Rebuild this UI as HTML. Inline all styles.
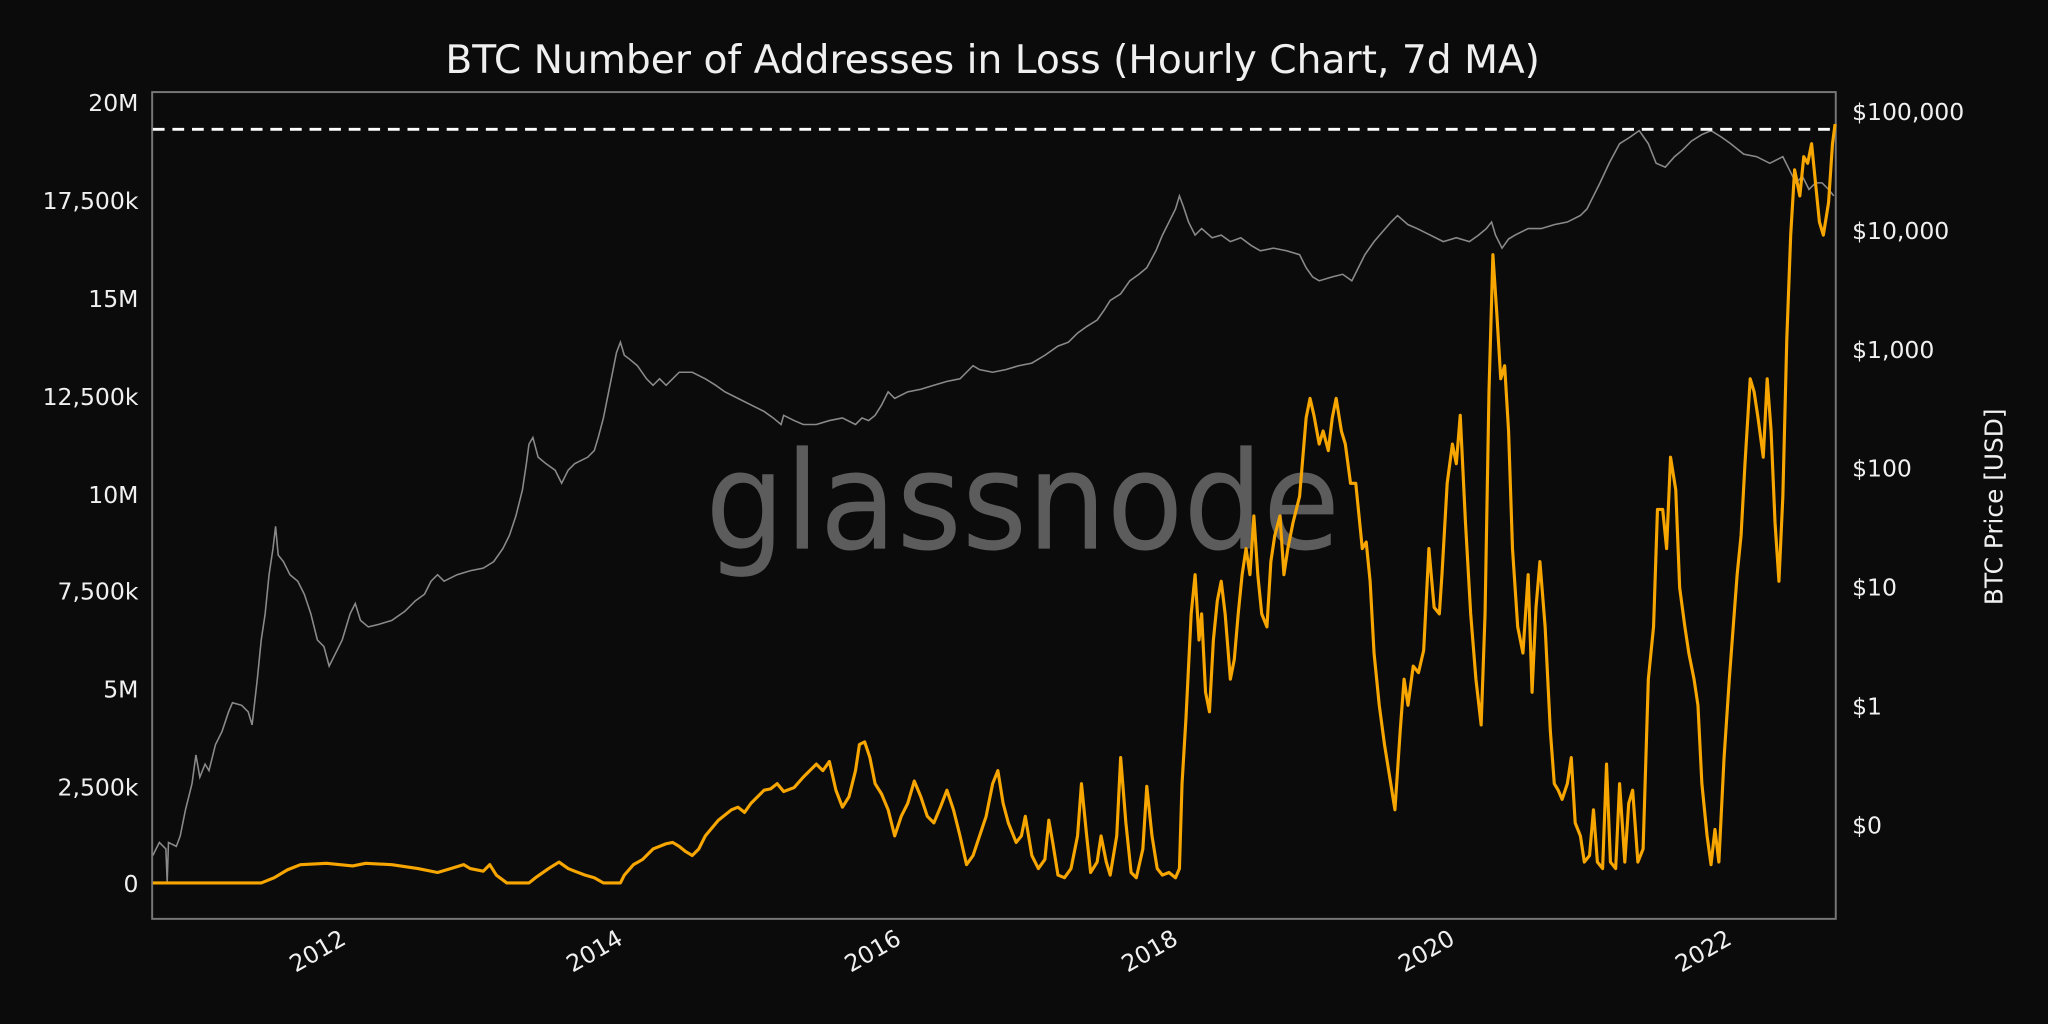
<!DOCTYPE html>
<html><head><meta charset="utf-8"><style>
html,body{margin:0;padding:0;background:#0b0b0b;}
svg{display:block;}
text{font-family:"DejaVu Sans","Liberation Sans",sans-serif;fill:#f0f0f0;}
</style></head><body>
<svg width="2048" height="1024" viewBox="0 0 1568 784" xmlns="http://www.w3.org/2000/svg">
<rect width="1568" height="784" fill="#0b0b0b"/>
<text x="760" y="56" font-size="30" text-anchor="middle">BTC Number of Addresses in Loss (Hourly Chart, 7d MA)</text>
<text x="540" y="420" font-size="104" textLength="486" lengthAdjust="spacingAndGlyphs" style="fill:#5c5c5c">glassnode</text>
<rect x="116.5" y="70.5" width="1289" height="633" fill="none" stroke="#777" stroke-width="1.5"/>
<g font-size="18" text-anchor="end">
<text x="106" y="85">20M</text>
<text x="106" y="160">17,500k</text>
<text x="106" y="235">15M</text>
<text x="106" y="310">12,500k</text>
<text x="106" y="385">10M</text>
<text x="106" y="459">7,500k</text>
<text x="106" y="534">5M</text>
<text x="106" y="609">2,500k</text>
<text x="106" y="683">0</text>
</g>
<g font-size="18">
<text x="1418" y="92">$100,000</text>
<text x="1418" y="183">$10,000</text>
<text x="1418" y="274">$1,000</text>
<text x="1418" y="365">$100</text>
<text x="1418" y="456">$10</text>
<text x="1418" y="547">$1</text>
<text x="1418" y="638">$0</text>
</g>
<text transform="translate(1533,388) rotate(-90)" font-size="19" text-anchor="middle">BTC Price [USD]</text>
<g font-size="18" text-anchor="end">
<text transform="translate(266,722) rotate(-30)">2012</text>
<text transform="translate(478,722) rotate(-30)">2014</text>
<text transform="translate(691,722) rotate(-30)">2016</text>
<text transform="translate(903,722) rotate(-30)">2018</text>
<text transform="translate(1115,722) rotate(-30)">2020</text>
<text transform="translate(1327,722) rotate(-30)">2022</text>
</g>
<polyline fill="none" stroke="#8a8a8a" stroke-width="1.2" points="117,655 122,645 127,650 128,675 129,645 135,648 138,640 142,620 147,600 150,578 153,595 157,585 160,590 165,570 170,560 175,545 178,538 185,540 190,545 193,555 197,520 200,490 203,470 206,440 209,420 211,403 213,425 217,430 222,440 228,445 233,455 238,470 243,490 248,495 252,510 257,500 262,490 268,470 272,462 276,475 282,480 290,478 300,475 310,468 318,460 325,455 330,445 335,440 340,445 350,440 360,437 370,435 378,430 385,420 390,410 395,395 400,375 403,355 405,340 408,335 412,350 418,355 425,360 430,370 435,360 440,355 450,350 455,345 458,335 462,320 466,300 469,285 472,270 475,262 478,272 482,275 488,280 495,290 500,295 505,290 510,295 520,285 530,285 540,290 548,295 555,300 565,305 575,310 585,315 592,320 598,325 600,318 608,322 615,325 625,325 635,322 645,320 655,325 660,320 665,322 670,318 675,310 680,300 685,305 695,300 705,298 715,295 725,292 735,290 740,285 745,280 750,283 760,285 770,283 780,280 790,278 800,272 810,265 818,262 825,255 832,250 840,245 845,238 850,230 858,225 865,215 872,210 878,205 885,192 890,180 895,170 900,160 903,150 906,158 910,170 915,180 920,175 928,182 935,180 942,185 950,182 958,188 965,192 975,190 985,192 995,195 1000,205 1005,212 1010,215 1020,212 1028,210 1035,215 1040,205 1045,195 1052,185 1058,178 1065,170 1070,165 1078,172 1085,175 1095,180 1105,185 1115,182 1125,185 1132,180 1138,175 1142,170 1145,180 1150,190 1155,183 1160,180 1170,175 1180,175 1190,172 1200,170 1210,165 1215,160 1220,150 1225,140 1232,125 1240,110 1248,105 1255,100 1262,110 1268,125 1275,128 1282,120 1288,115 1295,108 1303,103 1310,100 1318,105 1325,110 1335,118 1345,120 1355,125 1365,120 1370,130 1375,140 1380,135 1385,145 1390,140 1395,140 1400,145 1404,150"/>
<polyline fill="none" stroke="#f7a600" stroke-width="2.4" stroke-linejoin="round" points="117,676 200,676 210,672 220,666 230,662 250,661 270,663 280,661 300,662 320,665 335,668 345,665 355,662 360,665 370,667 375,662 380,670 388,676 405,676 410,672 420,665 428,660 435,665 440,667 448,670 455,672 462,676 475,676 478,670 485,662 492,658 500,650 510,646 515,645 520,648 525,652 530,655 535,650 540,640 550,628 560,620 565,618 570,622 575,615 580,610 585,605 590,604 595,600 600,606 608,603 615,595 620,590 625,585 630,590 635,583 640,605 645,618 650,610 655,590 658,570 662,568 666,580 670,600 675,608 680,620 685,640 690,625 695,615 700,598 705,610 710,625 715,630 720,618 725,605 730,620 735,640 740,662 745,655 750,640 755,625 760,600 764,590 768,615 772,630 778,645 782,640 785,625 790,655 795,665 800,658 803,628 806,645 810,670 815,672 820,665 825,640 828,600 832,640 835,668 840,660 843,640 847,660 850,670 855,640 858,580 862,630 866,668 870,672 875,650 878,602 882,640 886,665 890,670 895,668 900,672 903,665 905,600 908,550 912,470 915,440 918,490 920,470 923,530 926,545 929,490 932,460 935,445 938,470 942,520 945,505 948,470 951,440 954,420 957,440 960,395 963,440 966,470 970,480 973,430 976,410 980,395 983,440 986,420 990,400 995,380 1000,320 1003,305 1006,318 1010,340 1013,330 1017,345 1020,320 1023,305 1027,330 1030,340 1034,370 1038,370 1043,420 1046,415 1049,445 1052,500 1056,540 1060,570 1064,595 1068,620 1072,560 1075,520 1078,540 1082,510 1086,515 1090,498 1094,420 1098,465 1102,470 1104,440 1108,370 1112,340 1115,355 1118,318 1122,400 1126,470 1130,520 1134,555 1137,470 1140,300 1143,195 1146,240 1149,290 1152,280 1155,330 1158,420 1162,480 1166,500 1170,440 1173,530 1176,465 1179,430 1183,480 1187,560 1190,600 1193,605 1196,612 1200,600 1203,580 1206,630 1210,640 1213,660 1217,655 1220,620 1223,660 1227,665 1230,585 1233,660 1237,665 1240,600 1244,660 1247,615 1250,605 1254,660 1258,650 1262,520 1266,480 1269,390 1273,390 1276,420 1279,350 1283,375 1286,450 1290,480 1293,500 1297,520 1300,540 1303,600 1307,640 1310,662 1313,635 1316,660 1320,580 1324,520 1327,480 1330,440 1333,410 1336,355 1340,290 1343,300 1346,320 1350,350 1353,290 1356,330 1359,400 1362,445 1365,380 1368,260 1371,180 1374,130 1378,150 1381,120 1384,125 1387,110 1390,140 1393,170 1396,180 1400,155 1403,110 1405,95"/>
<line x1="117" y1="99" x2="1405" y2="99" stroke="#ffffff" stroke-width="2.2" stroke-dasharray="9,6"/>
</svg>
</body></html>
